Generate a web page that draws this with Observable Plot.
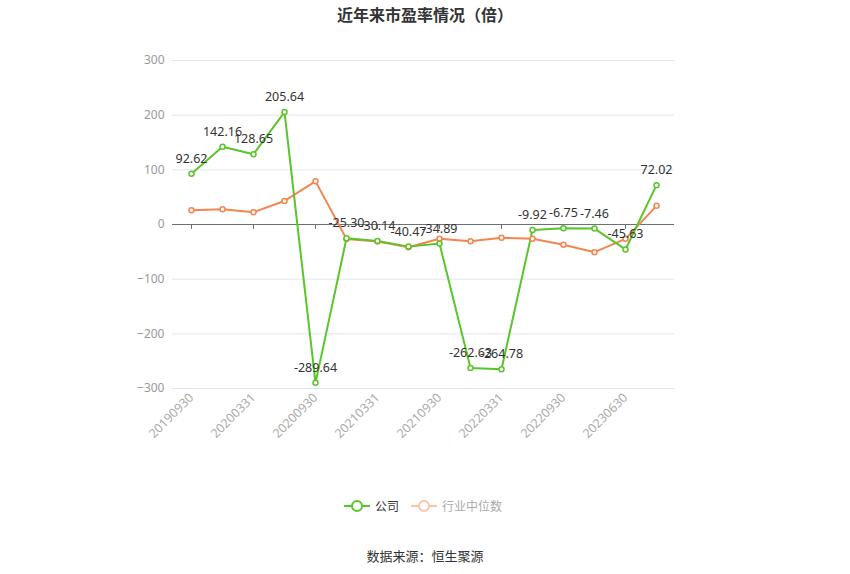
<!DOCTYPE html>
<html><head><meta charset="utf-8">
<script src="https://cdn.jsdelivr.net/npm/d3@7"></script>
<script src="https://cdn.jsdelivr.net/npm/@observablehq/plot@0.6"></script>
<style>
body{margin:0;background:#fff;font-family:"Noto Sans CJK SC","Noto Sans",sans-serif;}
#wrap{position:relative;width:850px;height:574px;}
#title{position:absolute;top:2px;left:0;width:850px;text-align:center;font-size:16px;font-weight:bold;color:#333;}
#legend{position:absolute;top:497px;left:0;width:850px;text-align:center;font-size:12px;}
#legend span{display:inline-flex;align-items:center;margin:0 4px;}
#source{position:absolute;top:546px;left:0;width:850px;text-align:center;font-size:13px;color:#333;}
#chart{position:absolute;top:0;left:0;}
</style></head>
<body>
<div id="wrap">
<div id="chart"></div>
<div id="title">近年来市盈率情况（倍）</div>
<div id="legend"></div>
<div id="source">数据来源：恒生聚源</div>
</div>
<script>
const dates = ["20190930","20191231","20200331","20200630","20200930","20201231","20210331","20210630","20210930","20211231","20220331","20220630","20220930","20230331","20230630","20230930"];
const tickDates = ["20190930","20200331","20200930","20210331","20210930","20220331","20220930","20230630"];
const company = [92.62,142.16,128.65,205.64,-289.64,-25.30,-30.14,-40.47,-34.89,-262.63,-264.78,-9.92,-6.75,-7.46,-45.63,72.02];
const industry = [26.1,27.9,22.5,43.1,78.9,-26.5,-31.0,-41.5,-26.2,-30.5,-24.4,-26.2,-37.2,-50.6,-26.2,34.1];
const yTicks = [-300,-200,-100,0,100,200,300];
const seriesNames = ["公司","行业中位数"];
const colors = ["#5ac52a","#f5854f"];

const comp = dates.map((d,i)=>({date:d, value:company[i]}));
const ind = dates.map((d,i)=>({date:d, value:industry[i]}));

const chart = Plot.plot({
  width:850, height:574,
  marginLeft:172, marginRight:176, marginTop:60, marginBottom:186,
  style:{fontFamily:'"Noto Sans","Noto Sans CJK SC",sans-serif', fontSize:"12px", background:"transparent"},
  x:{type:"point", domain:dates, padding:0.5},
  y:{domain:[-300,300]},
  marks:[
    Plot.gridY(yTicks,{stroke:"#e0e6f1", strokeOpacity:1}),
    Plot.axisY(yTicks,{tickSize:0, tickPadding:8, fill:"#999", fontSize:12, label:null}),
    Plot.axisX(tickDates,{anchor:"bottom", tickSize:0, tickRotate:-45, tickPadding:7, fill:"#aaa", fontSize:12.5, label:null}),
    Plot.ruleY([0],{stroke:"#6e7079"}),
    Plot.ruleX(tickDates,{x:d=>d, y1:0, y2:-9, stroke:"#6e7079"}),
    Plot.line(ind,{x:"date", y:"value", stroke:colors[1], strokeWidth:2}),
    Plot.line(comp,{x:"date", y:"value", stroke:colors[0], strokeWidth:2}),
    Plot.dot(ind,{x:"date", y:"value", r:2.5, fill:"#fff", stroke:colors[1], strokeWidth:1.5}),
    Plot.dot(comp,{x:"date", y:"value", r:2.5, fill:"#fff", stroke:colors[0], strokeWidth:1.5}),
    Plot.text(comp,{x:"date", y:"value", text:d=>d.value.toFixed(2), dy:-15, fill:"#333", fontSize:12.5})
  ]
});
document.getElementById("chart").appendChild(chart);

const leg = document.getElementById("legend");
seriesNames.forEach((n,i)=>{
  const faded = i===1;
  const c = faded ? "#f9c4aa" : colors[i];
  const s = document.createElement("span");
  s.innerHTML = `<svg width="26" height="14"><line x1="0" y1="7" x2="26" y2="7" stroke="${c}" stroke-width="2"/><circle cx="13" cy="7" r="5" fill="#fff" stroke="${c}" stroke-width="2"/></svg><span style="margin-left:5px;color:${faded?"#aaa":"#333"}">${n}</span>`;
  leg.appendChild(s);
});
</script>
</body></html>
